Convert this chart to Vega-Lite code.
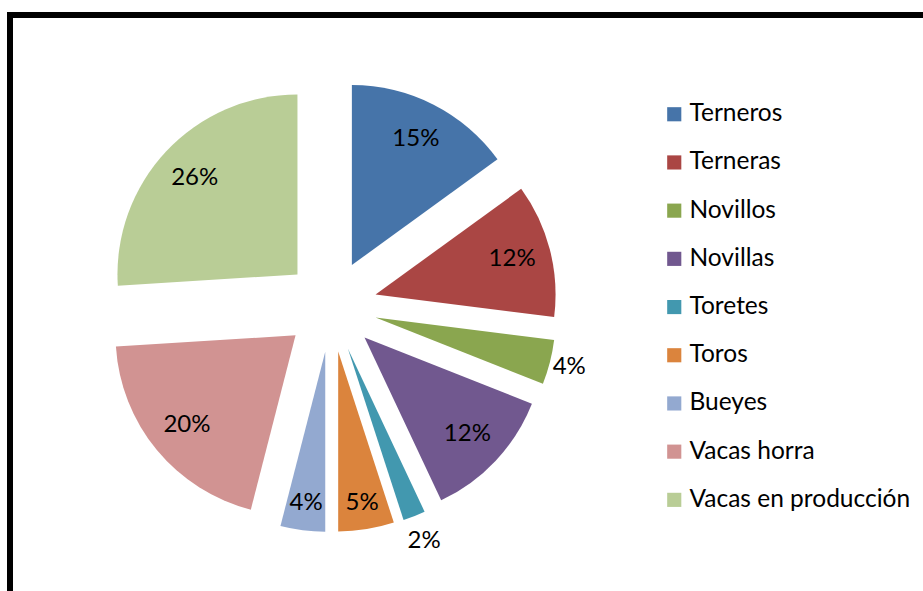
{
  "$schema": "https://vega.github.io/schema/vega-lite/v6.json",
  "width": 913,
  "height": 576,
  "autosize": {"type": "none"},
  "padding": {"left": 10, "top": 15, "right": 0, "bottom": 0},
  "background": "white",
  "config": {
    "view": {"stroke": "black", "strokeWidth": 6, "strokeDash": [913, 1489, 576], "strokeCap": "square"},
    "font": "Lato"
  },
  "data": {
    "values": [
      {"name": "Terneros", "pct": 15},
      {"name": "Terneras", "pct": 12},
      {"name": "Novillos", "pct": 4},
      {"name": "Novillas", "pct": 12},
      {"name": "Toretes", "pct": 2},
      {"name": "Toros", "pct": 5},
      {"name": "Bueyes", "pct": 4},
      {"name": "Vacas horra", "pct": 20},
      {"name": "Vacas en producción", "pct": 26}
    ]
  },
  "transform": [
    {"window": [{"op": "sum", "field": "pct", "as": "cum"}], "frame": [null, 0]},
    {"joinaggregate": [{"op": "sum", "field": "pct", "as": "total"}]},
    {"calculate": "datum.cum - datum.pct", "as": "start"},
    {"calculate": "2 * PI * (datum.cum - datum.pct / 2) / datum.total", "as": "mid"},
    {"calculate": "46 * sin(datum.mid)", "as": "ex"},
    {"calculate": "46 * cos(datum.mid)", "as": "ey"},
    {"calculate": "datum.name === 'Toretes' ? 207 : datum.name === 'Novillos' ? 200 : datum.pct <= 5 ? 153 : 141", "as": "lr"},
    {"calculate": "datum.ex + datum.lr * sin(datum.mid)", "as": "lx"},
    {"calculate": "datum.ey + datum.lr * cos(datum.mid)", "as": "ly"},
    {"calculate": "datum.pct + '%'", "as": "label"}
  ],
  "layer": [
    {
      "mark": {"type": "arc", "outerRadius": 180},
      "encoding": {
        "x": {"field": "ex", "type": "quantitative", "scale": {"domain": [-321, 592]}, "axis": null},
        "y": {"field": "ey", "type": "quantitative", "scale": {"domain": [-285, 291]}, "axis": null},
        "theta": {"field": "start", "type": "quantitative", "scale": {"domain": [0, 100]}, "stack": null},
        "theta2": {"field": "cum"},
        "color": {
          "field": "name",
          "type": "nominal",
          "sort": null,
          "scale": {
            "domain": ["Terneros", "Terneras", "Novillos", "Novillas", "Toretes", "Toros", "Bueyes", "Vacas horra", "Vacas en producción"],
            "range": ["#4674A9", "#AA4644", "#8AA64F", "#71588F", "#4298AF", "#DB843D", "#93A9D0", "#D19392", "#B9CD96"]
          },
          "legend": {
            "title": null,
            "orient": "none",
            "legendX": 652,
            "legendY": 87,
            "symbolType": "square",
            "symbolSize": 200,
            "symbolStrokeWidth": 0,
            "labelFont": "Lato",
            "labelFontSize": 24.5,
            "labelColor": "black",
            "labelLimit": 400,
            "labelOffset": 3,
            "rowPadding": 23.2,
            "padding": 0
          }
        }
      }
    },
    {
      "mark": {"type": "text", "fontSize": 24, "font": "Lato", "color": "black", "baseline": "middle", "align": "center"},
      "encoding": {
        "x": {"field": "lx", "type": "quantitative", "scale": {"domain": [-321, 592]}, "axis": null},
        "y": {"field": "ly", "type": "quantitative", "scale": {"domain": [-285, 291]}, "axis": null},
        "text": {"field": "label", "type": "nominal"}
      }
    }
  ]
}
